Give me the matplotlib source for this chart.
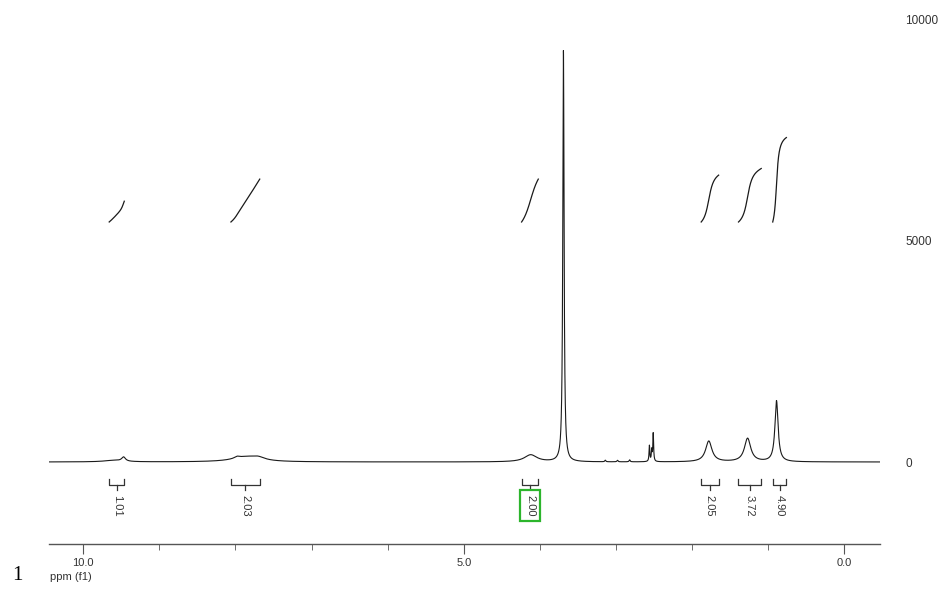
import numpy as np
import matplotlib
matplotlib.use("Agg")
import matplotlib.pyplot as plt

plt.rcParams['font.family'] = ['Liberation Sans', 'DejaVu Sans']

# 1H spectrum described as Lorentzian lines: centre (ppm), height, half width (ppm)
peak_ppm = [9.60, 9.47, 7.98, 7.86, 7.70, 4.12, 3.69, 3.14, 2.98, 2.82,
            2.56, 2.53, 2.51, 1.78, 1.27, 0.89]
peak_height = [35, 95, 40, 110, 60, 160, 9300, 35, 35, 45,
               360, 250, 640, 470, 530, 1380]
peak_hwhm = [0.15, 0.03, 0.04, 0.22, 0.10, 0.10, 0.010, 0.008, 0.008, 0.008,
             0.006, 0.006, 0.006, 0.05, 0.05, 0.025]

# integration regions (ppm), printed values and integral curve end levels
integral_ranges = [(9.66, 9.46), (8.06, 7.68), (4.24, 4.02),
                   (1.88, 1.65), (1.39, 1.09), (0.94, 0.76)]
integral_labels = ["1.01", "2.03", "2.00", "2.05", "3.72", "4.90"]
integral_start = 5430
integral_end = [5900, 6400, 6400, 6490, 6640, 7340]
boxed_label = "2.00"

ppm = np.linspace(10.45, -0.47, 12000)
spec = np.zeros_like(ppm)
for c, h, w in zip(peak_ppm, peak_height, peak_hwhm):
    spec += h * w**2 / ((ppm - c)**2 + w**2)

fig = plt.figure(figsize=(9.38, 5.92), dpi=100)
ax = fig.add_axes([49/938, 48/592, 831/938, 544/592])

ax.plot(ppm, spec, color='#1a1a1a', lw=0.8)

for (hi, lo), lab, top in zip(integral_ranges, integral_labels, integral_end):
    m = (ppm <= hi) & (ppm >= lo)
    cum = np.cumsum(spec[m])
    cum = (cum - cum[0]) / (cum[-1] - cum[0])
    ax.plot(ppm[m], integral_start + cum * (top - integral_start),
            color='#1a1a1a', lw=0.9)

    # bracket under the baseline
    mid = (hi + lo) / 2
    ax.plot([hi, hi, lo, lo], [-385, -520, -520, -385], color='#333333', lw=0.9)
    ax.plot([mid, mid], [-520, -640], color='#333333', lw=0.9)
    kw = {}
    if lab == boxed_label:
        kw['bbox'] = dict(boxstyle='square,pad=0.45', fc='white',
                          ec='#2cb52c', lw=1.6)
    ax.text(mid, -985, lab, rotation=270, ha='center', va='center',
            fontsize=8, color='#333333', **kw)

ax.set_xlim(10.45, -0.47)
ax.set_ylim(-1855, 10452)

for s in ['top', 'left', 'right']:
    ax.spines[s].set_visible(False)
ax.spines['bottom'].set_color('#555555')
ax.spines['bottom'].set_linewidth(1.0)

ax.set_xticks([10.0, 5.0, 0.0])
ax.set_xticklabels(["10.0", "5.0", "0.0"])
ax.set_xticks(np.arange(0, 11, 1.0), minor=True)
ax.tick_params(axis='x', which='major', length=7, color='#555555',
               labelsize=8, labelcolor='#333333', pad=3)
ax.tick_params(axis='x', which='minor', length=4, color='#555555')

ax.yaxis.tick_right()
ax.set_yticks([0, 5000, 10000])
ax.set_yticklabels(["0", "5000", "10000"])
ax.tick_params(axis='y', length=0, pad=18, labelsize=8.5, labelcolor='#333333')
for t in ax.get_yticklabels():
    t.set_horizontalalignment('left')

fig.text(50/938, 1 - 577/592, "ppm (f1)", fontsize=8, color='#333333',
         va='center', ha='left')
fig.text(12/938, 1 - 576/592, "1", fontsize=15, family='Liberation Serif',
         va='center', ha='left', color='black')

fig.savefig("out.png", dpi=100)
